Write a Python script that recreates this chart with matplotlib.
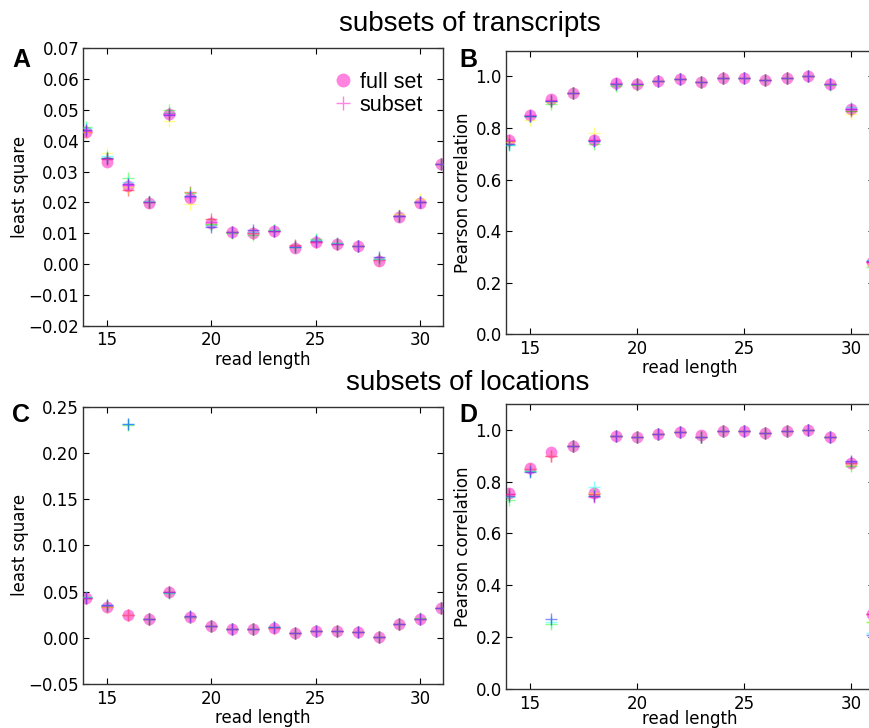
import matplotlib
matplotlib.use("Agg")
import matplotlib.pyplot as plt
import numpy as np

# ---------------- data ----------------
read_length = [14, 15, 16, 17, 18, 19, 20, 21, 22, 23, 24, 25, 26, 27, 28, 29, 30, 31]
subset_colors = ['red', 'yellow', 'lime', 'cyan', 'blue', 'magenta']

# Panel A: least square, subsets of transcripts
ls_trans_full = [0.0427, 0.0332, 0.0254, 0.0199, 0.0487, 0.0215, 0.0132, 0.0103, 0.0101, 0.0107,
                 0.0052, 0.0070, 0.0065, 0.0059, 0.0010, 0.0154, 0.0198, 0.0325]
ls_trans_red = [0.0430, 0.0340, 0.0240, 0.0200, 0.0490, 0.0235, 0.0145, 0.0103, 0.0100, 0.0108,
                0.0062, 0.0072, 0.0066, 0.0060, 0.0012, 0.0157, 0.0200, 0.0325]
ls_trans_yellow = [0.0430, 0.0360, 0.0250, 0.0200, 0.0465, 0.0195, 0.0130, 0.0103, 0.0100, 0.0110,
                   0.0055, 0.0075, 0.0066, 0.0060, 0.0012, 0.0162, 0.0212, 0.0325]
ls_trans_green = [0.0445, 0.0345, 0.0280, 0.0202, 0.0500, 0.0230, 0.0130, 0.0102, 0.0095, 0.0112,
                  0.0055, 0.0080, 0.0068, 0.0060, 0.0015, 0.0157, 0.0202, 0.0325]
ls_trans_cyan = [0.0440, 0.0350, 0.0265, 0.0205, 0.0490, 0.0220, 0.0128, 0.0103, 0.0105, 0.0110,
                 0.0055, 0.0078, 0.0068, 0.0060, 0.0018, 0.0157, 0.0202, 0.0325]
ls_trans_blue = [0.0435, 0.0345, 0.0260, 0.0200, 0.0485, 0.0220, 0.0120, 0.0103, 0.0110, 0.0108,
                 0.0055, 0.0075, 0.0066, 0.0060, 0.0022, 0.0155, 0.0200, 0.0325]
ls_trans_magenta = [0.0432, 0.0342, 0.0255, 0.0200, 0.0487, 0.0218, 0.0135, 0.0103, 0.0102, 0.0108,
                    0.0058, 0.0072, 0.0066, 0.0060, 0.0012, 0.0156, 0.0200, 0.0325]

# Panel B: Pearson correlation, subsets of transcripts
pc_trans_full = [0.755, 0.852, 0.912, 0.937, 0.755, 0.975, 0.970, 0.982, 0.990, 0.978,
                 0.995, 0.995, 0.988, 0.993, 1.000, 0.970, 0.872, 0.282]
pc_trans_red = [0.750, 0.845, 0.905, 0.937, 0.755, 0.972, 0.970, 0.982, 0.990, 0.978,
                0.995, 0.995, 0.988, 0.993, 1.000, 0.970, 0.868, 0.280]
pc_trans_yellow = [0.745, 0.830, 0.900, 0.937, 0.780, 0.972, 0.968, 0.982, 0.990, 0.978,
                   0.995, 0.995, 0.988, 0.993, 1.000, 0.970, 0.855, 0.270]
pc_trans_green = [0.735, 0.845, 0.895, 0.935, 0.740, 0.965, 0.968, 0.982, 0.990, 0.978,
                  0.995, 0.995, 0.988, 0.993, 1.000, 0.968, 0.865, 0.260]
pc_trans_cyan = [0.735, 0.848, 0.905, 0.935, 0.748, 0.970, 0.972, 0.982, 0.990, 0.978,
                 0.995, 0.995, 0.988, 0.993, 1.000, 0.970, 0.880, 0.290]
pc_trans_blue = [0.740, 0.848, 0.905, 0.937, 0.750, 0.972, 0.972, 0.982, 0.990, 0.978,
                 0.995, 0.995, 0.988, 0.993, 1.000, 0.970, 0.875, 0.285]
pc_trans_magenta = [0.752, 0.850, 0.910, 0.937, 0.752, 0.975, 0.970, 0.982, 0.990, 0.978,
                    0.995, 0.995, 0.988, 0.993, 1.000, 0.970, 0.872, 0.282]

# Panel C: least square, subsets of locations
ls_loc_full = [0.0430, 0.0330, 0.0250, 0.0200, 0.0490, 0.0220, 0.0130, 0.0100, 0.0100, 0.0110,
               0.0050, 0.0070, 0.0070, 0.0060, 0.0010, 0.0150, 0.0200, 0.0320]
ls_loc_red = [0.0430, 0.0330, 0.0250, 0.0200, 0.0490, 0.0220, 0.0130, 0.0100, 0.0100, 0.0110,
              0.0050, 0.0070, 0.0070, 0.0060, 0.0010, 0.0150, 0.0200, 0.0320]
ls_loc_yellow = [0.0430, 0.0330, 0.0250, 0.0200, 0.0490, 0.0220, 0.0130, 0.0100, 0.0100, 0.0110,
                 0.0050, 0.0070, 0.0070, 0.0060, 0.0010, 0.0150, 0.0200, 0.0320]
ls_loc_green = [0.0440, 0.0340, 0.2305, 0.0200, 0.0480, 0.0220, 0.0130, 0.0100, 0.0100, 0.0115,
                0.0050, 0.0070, 0.0070, 0.0060, 0.0010, 0.0150, 0.0210, 0.0320]
ls_loc_cyan = [0.0440, 0.0350, 0.2310, 0.0200, 0.0480, 0.0230, 0.0130, 0.0100, 0.0100, 0.0115,
               0.0050, 0.0070, 0.0070, 0.0060, 0.0010, 0.0150, 0.0200, 0.0320]
ls_loc_blue = [0.0430, 0.0360, 0.2315, 0.0200, 0.0490, 0.0240, 0.0130, 0.0100, 0.0100, 0.0120,
               0.0050, 0.0070, 0.0070, 0.0060, 0.0010, 0.0150, 0.0200, 0.0320]
ls_loc_magenta = [0.0430, 0.0340, 0.0250, 0.0200, 0.0490, 0.0220, 0.0130, 0.0100, 0.0100, 0.0110,
                  0.0050, 0.0070, 0.0070, 0.0060, 0.0010, 0.0150, 0.0200, 0.0320]

# Panel D: Pearson correlation, subsets of locations
pc_loc_full = [0.755, 0.852, 0.912, 0.937, 0.755, 0.975, 0.970, 0.982, 0.990, 0.978,
               0.995, 0.995, 0.988, 0.993, 1.000, 0.970, 0.872, 0.290]
pc_loc_red = [0.750, 0.850, 0.900, 0.937, 0.750, 0.975, 0.970, 0.982, 0.990, 0.970,
              0.995, 0.995, 0.988, 0.993, 1.000, 0.970, 0.870, 0.290]
pc_loc_yellow = [0.745, 0.850, 0.900, 0.937, 0.755, 0.975, 0.970, 0.982, 0.990, 0.972,
                 0.995, 0.995, 0.988, 0.993, 1.000, 0.970, 0.865, 0.260]
pc_loc_green = [0.730, 0.840, 0.250, 0.935, 0.745, 0.975, 0.972, 0.982, 0.990, 0.972,
                0.995, 0.995, 0.988, 0.993, 1.000, 0.970, 0.860, 0.258]
pc_loc_cyan = [0.740, 0.840, 0.260, 0.937, 0.780, 0.975, 0.970, 0.982, 0.990, 0.972,
               0.995, 0.995, 0.988, 0.993, 1.000, 0.970, 0.875, 0.215]
pc_loc_blue = [0.745, 0.835, 0.270, 0.937, 0.745, 0.975, 0.970, 0.982, 0.990, 0.970,
               0.995, 0.995, 0.988, 0.993, 1.000, 0.970, 0.880, 0.210]
pc_loc_magenta = [0.750, 0.850, 0.900, 0.937, 0.740, 0.975, 0.970, 0.982, 0.990, 0.970,
                  0.995, 0.995, 0.988, 0.993, 1.000, 0.970, 0.875, 0.290]

panels = [
    ('A', ls_trans_full, [ls_trans_red, ls_trans_yellow, ls_trans_green, ls_trans_cyan, ls_trans_blue, ls_trans_magenta]),
    ('B', pc_trans_full, [pc_trans_red, pc_trans_yellow, pc_trans_green, pc_trans_cyan, pc_trans_blue, pc_trans_magenta]),
    ('C', ls_loc_full, [ls_loc_red, ls_loc_yellow, ls_loc_green, ls_loc_cyan, ls_loc_blue, ls_loc_magenta]),
    ('D', pc_loc_full, [pc_loc_red, pc_loc_yellow, pc_loc_green, pc_loc_cyan, pc_loc_blue, pc_loc_magenta]),
]

# ---------------- style ----------------
plt.rcParams.update({
    'font.family': 'DejaVu Sans',
    'font.size': 12,
    'xtick.direction': 'in', 'ytick.direction': 'in',
    'xtick.top': True, 'ytick.right': True,
    'xtick.major.size': 4, 'ytick.major.size': 4,
    'xtick.major.pad': 4, 'ytick.major.pad': 3,
    'axes.linewidth': 1.0,
})

W, H = 869, 728
fig = plt.figure(figsize=(W / 100, H / 100), dpi=100)
fig.patch.set_facecolor('white')

def rect(left, right, top, bottom):
    return [left / W, 1 - bottom / H, (right - left) / W, (bottom - top) / H]

rects = {
    'A': rect(83.3, 442.5, 48.3, 325.7),
    'B': rect(506.0, 873.7, 50.7, 334.3),
    'C': rect(83.3, 442.5, 406.7, 684.0),
    'D': rect(506.0, 873.7, 403.7, 689.0),
}
ylims = {'A': (-0.02, 0.07), 'B': (0.0, 1.1), 'C': (-0.05, 0.25), 'D': (0.0, 1.1)}
yticks = {'A': np.arange(-0.02, 0.0701, 0.01), 'B': np.arange(0, 1.01, 0.2),
          'C': np.arange(-0.05, 0.2501, 0.05), 'D': np.arange(0, 1.01, 0.2)}
ylabels = {'A': 'least square', 'B': 'Pearson correlation', 'C': 'least square', 'D': 'Pearson correlation'}
ydec = {'A': 2, 'B': 1, 'C': 2, 'D': 1}
ylabel_x = {'A': -0.152, 'B': -0.092, 'C': -0.152, 'D': -0.092}
xlabel_pad = {'A': 1, 'B': 1, 'C': 1, 'D': -1.5}
letter_pos = {'A': (12, 67), 'B': (459, 67), 'C': (12, 422), 'D': (459, 422)}

full_color = '#ff33cc'


def make_fmt(nd):
    def f(v, pos):
        s = ('%.' + str(nd) + 'f') % v
        if s.startswith('-'):
            if float(s) == 0:
                s = s[1:]
            else:
                s = '\u2212' + s[1:]
        return s
    return matplotlib.ticker.FuncFormatter(f)


for name, full, subsets in panels:
    ax = fig.add_axes(rects[name])
    ax.plot(read_length, full, 'o', color=full_color, alpha=0.6, ms=8.5, mec='none',
            label='full set', zorder=2)
    for vals, c in zip(subsets, subset_colors):
        lab = 'subset' if c == 'magenta' else None
        ax.plot(read_length, vals, '+', color=c, alpha=0.45, ms=9, mew=1.0,
                label=lab, zorder=3)
    ax.set_xlim(13.88, 31.06)
    ax.set_ylim(*ylims[name])
    ax.set_xticks([15, 20, 25, 30])
    ax.set_yticks(yticks[name])
    ax.yaxis.set_major_formatter(make_fmt(ydec[name]))
    ax.set_xlabel('read length', labelpad=xlabel_pad[name])
    ax.set_ylabel(ylabels[name])
    ax.yaxis.set_label_coords(ylabel_x[name], 0.5)
    for s in ax.spines.values():
        s.set_color('#333333')
    lx, ly = letter_pos[name]
    fig.text(lx / W, 1 - ly / H, name, fontsize=18, fontweight='bold',
             family=['Liberation Sans', 'DejaVu Sans'], ha='left', va='baseline')
    if name == 'A':
        leg = ax.legend(loc='upper right', frameon=False, numpoints=1,
                        bbox_to_anchor=(1.0, 0.985), handletextpad=0.2,
                        labelspacing=0.1, handlelength=1.2,
                        prop={'family': ['Liberation Sans', 'DejaVu Sans'], 'size': 15.5})
        for h in leg.legend_handles:
            h.set_alpha(0.6)
            h.set_color(full_color)
            h.set_markersize(10)

fig.text(470 / W, 1 - 31 / H, 'subsets of transcripts', ha='center', va='baseline',
         fontsize=20, family=['Liberation Sans Narrow', 'Liberation Sans', 'DejaVu Sans'])
fig.text(468 / W, 1 - 390 / H, 'subsets of locations', ha='center', va='baseline',
         fontsize=20, family=['Liberation Sans Narrow', 'Liberation Sans', 'DejaVu Sans'])

fig.savefig('out.png', dpi=100, facecolor='white')
